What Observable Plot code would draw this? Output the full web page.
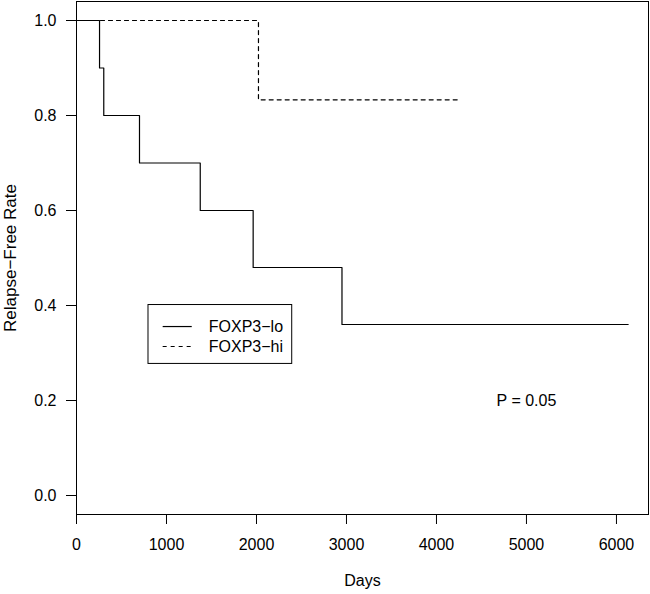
<!DOCTYPE html>
<html>
<head>
<meta charset="utf-8">
<script src="https://cdn.jsdelivr.net/npm/d3@7"></script>
<script src="https://cdn.jsdelivr.net/npm/@observablehq/plot@0.6"></script>
<style>
  html, body { margin: 0; padding: 0; background: #fff; }
  #chart svg { display: block; }
</style>
</head>
<body>
<div id="chart"></div>
<script>
// Kaplan–Meier step data
const loDays = [0, 256, 303, 700, 1375, 1963, 2950, 6130];
const loSurv = [1.0, 0.9, 0.8, 0.7, 0.6, 0.48, 0.36, 0.36];
const hiDays = [0, 2022, 4233];
const hiSurv = [1.0, 0.833, 0.833];

const seriesNames = ["FOXP3−lo", "FOXP3−hi"];
const xTicks = [0, 1000, 2000, 3000, 4000, 5000, 6000];
const yTickValues = [0.0, 0.2, 0.4, 0.6, 0.8, 1.0];
const pLabel = "P = 0.05";

const lo = loDays.map((d, i) => ({days: d, surv: loSurv[i]}));
const hi = hiDays.map((d, i) => ({days: d, surv: hiSurv[i]}));

const font = "'Liberation Sans', Arial, Helvetica, sans-serif";
const fs = 16;

// legend placement (R legend(x = 800, y = 0.4))
const leg = {x1: 800, x2: 2397, y1: 0.401, y2: 0.277,
             s1: 963, s2: 1286, tx: 1470, rows: [0.3557, 0.3137]};

const chart = Plot.plot({
  width: 650,
  height: 594,
  marginLeft: 76,
  marginRight: 2,
  marginTop: 1,
  marginBottom: 80,
  style: {fontFamily: font, fontSize: fs + "px", color: "black", background: "white"},
  x: {domain: [0, 6356]},
  y: {domain: [-0.04, 1.04]},
  marks: [
    Plot.frame({stroke: "black", strokeWidth: 1}),
    Plot.axisX({ticks: xTicks, tickSize: 10, tickPadding: 14, tickFormat: d => String(d), label: null, fontSize: fs}),
    Plot.axisY({ticks: yTickValues, tickSize: 10, tickPadding: 10, tickFormat: d3.format(".1f"), label: null, fontSize: fs}),
    Plot.text(["Days"], {frameAnchor: "bottom", dy: 71, fontSize: fs}),
    Plot.text(["Relapse−Free Rate"], {frameAnchor: "left", dx: -66, rotate: -90, textAnchor: "middle", fontSize: 17}),
    Plot.line(lo, {x: "days", y: "surv", curve: "step-after", stroke: "black", strokeWidth: 1.2}),
    Plot.line(hi, {x: "days", y: "surv", curve: "step-after", stroke: "black", strokeWidth: 1.2, strokeDasharray: "4,4"}),
    // legend
    Plot.rect([leg], {x1: "x1", x2: "x2", y1: "y1", y2: "y2", fill: "white", stroke: "black", strokeWidth: 1}),
    Plot.ruleY([leg.rows[0]], {x1: leg.s1, x2: leg.s2, stroke: "black", strokeWidth: 1.2}),
    Plot.ruleY([leg.rows[1]], {x1: leg.s1, x2: leg.s2, stroke: "black", strokeWidth: 1.2, strokeDasharray: "4,4"}),
    Plot.text(seriesNames.map((n, i) => ({n, y: leg.rows[i]})), {x: () => leg.tx, y: "y", text: "n", textAnchor: "start", fontSize: fs}),
    Plot.text([pLabel], {x: () => 5000, y: () => 0.2, fontSize: fs})
  ]
});
document.getElementById("chart").appendChild(chart);
</script>
</body>
</html>
